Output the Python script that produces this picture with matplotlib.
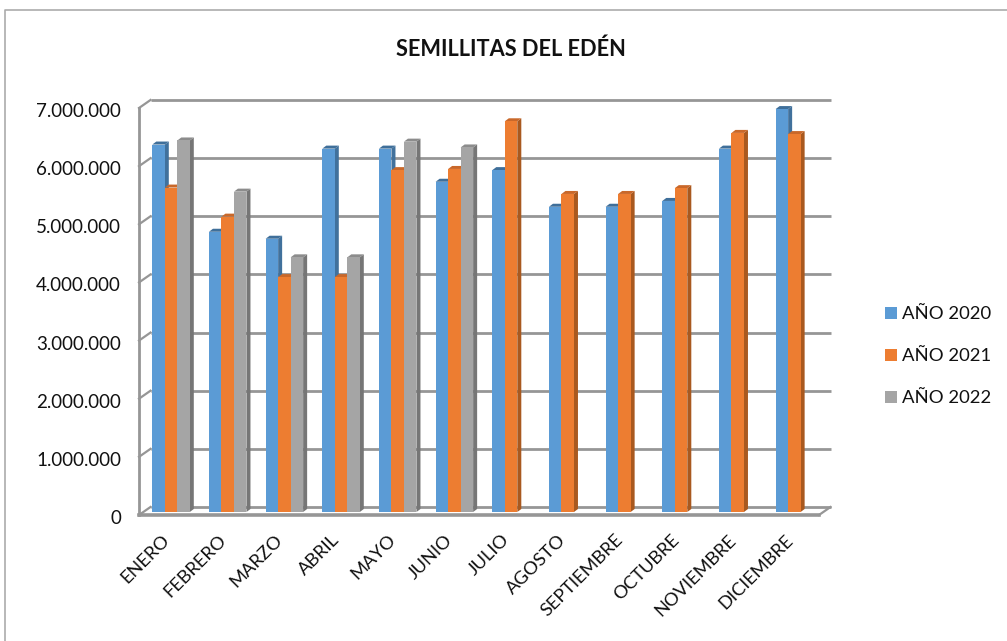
import matplotlib
matplotlib.use("Agg")
import matplotlib.pyplot as plt
from matplotlib.lines import Line2D
from matplotlib.patches import Polygon, Rectangle
from matplotlib.ticker import FuncFormatter
from matplotlib.transforms import ScaledTranslation

W, H = 1007, 641

meses = ["ENERO", "FEBRERO", "MARZO", "ABRIL", "MAYO", "JUNIO", "JULIO",
         "AGOSTO", "SEPTIEMBRE", "OCTUBRE", "NOVIEMBRE", "DICIEMBRE"]
y2020 = [6320000, 4820000, 4700000, 6250000, 6250000, 5680000, 5880000,
         5250000, 5250000, 5350000, 6250000, 6930000]
y2021 = [5580000, 5080000, 4040000, 4040000, 5880000, 5900000, 6720000,
         5470000, 5470000, 5570000, 6520000, 6500000]
y2022 = [6390000, 5510000, 4380000, 4380000, 6370000, 6270000, None,
         None, None, None, None, None]
series = [("AÑO 2020", y2020, "#5B9BD5", "#41719C", "#3F6F9A"),
          ("AÑO 2021", y2021, "#ED7D31", "#A9591F", "#C9682A"),
          ("AÑO 2022", y2022, "#A5A5A5", "#767676", "#8C8C8C")]

plt.rcParams['font.family'] = ['Lato', 'DejaVu Sans']

fig = plt.figure(figsize=(W / 100, H / 100), dpi=100)
ax = fig.add_axes([139 / W, 1 - 515 / H, 680 / W, 407 / H])
ax.set_xlim(0, 12)
ax.set_ylim(0, 7000000)

# pixel sizes turned into data units
px_x = 12 / 680
px_y = 7000000 / 407
wall_dx, wall_dy = 11.5 * px_x, 8 * px_y
bar_w = 12.5 * px_x
bar_x0 = 13.3 * px_x
base = 3 * px_y
side_dx, side_dy = 4 * px_x, 3 * px_y

ax.patch.set_visible(False)
for s in ax.spines.values():
    s.set_visible(False)

grid = "#969696"
ticks = list(range(0, 8000000, 1000000))
for t in ticks:
    ax.plot([wall_dx, 12 + wall_dx], [t + wall_dy, t + wall_dy], color=grid, lw=2.0,
            clip_on=False, zorder=1, solid_capstyle='butt')
    ax.plot([0, wall_dx], [t, t + wall_dy], color=grid, lw=1.6, clip_on=False, zorder=1)
ax.plot([0, 0], [0, 7000000], color=grid, lw=2.0, clip_on=False, zorder=1)
ax.plot([12, 12 + wall_dx], [0, wall_dy], color=grid, lw=1.6, clip_on=False, zorder=1)
ax.plot([0, 12], [0, 0], color=grid, lw=2.6, clip_on=False, zorder=5)

for i in range(12):
    for j, (name, vals, col, side, top) in enumerate(series):
        v = vals[i]
        if v is None:
            continue
        x0 = i + bar_x0 + j * bar_w
        x1 = x0 + bar_w
        z = 3 + j * 0.1
        # bars stand a little behind the front edge of the floor
        ytop = v + base
        ax.add_patch(Polygon([(x1, base), (x1 + side_dx, base + side_dy),
                              (x1 + side_dx, ytop + side_dy), (x1, ytop)],
                             closed=True, fc=side, ec='none', clip_on=False, zorder=z))
        ax.add_patch(Polygon([(x0, ytop), (x0 + side_dx, ytop + side_dy),
                              (x1 + side_dx, ytop + side_dy), (x1, ytop)],
                             closed=True, fc=top, ec='none', clip_on=False, zorder=z))
        ax.add_patch(Rectangle((x0, base), bar_w, v, fc=col, ec='none',
                               clip_on=False, zorder=z + 0.05))

ax.set_yticks(ticks)
ax.yaxis.set_major_formatter(FuncFormatter(lambda v, p: f"{int(v):,}".replace(",", ".")))
ax.tick_params(axis='y', length=0, pad=13, labelsize=13.5, labelcolor="#111111")
shift = ScaledTranslation(0, -2 / 100, fig.dpi_scale_trans)
for lab in ax.get_yticklabels():
    lab.set_transform(lab.get_transform() + shift)
ax.set_xticks([i + 0.5 for i in range(12)])
ax.set_xticklabels(meses, rotation=45, ha='right', rotation_mode='anchor', fontsize=13.2,
                   color="#111111")
ax.tick_params(axis='x', length=0, pad=12)
shift_x = ScaledTranslation(-6 / 100, 0, fig.dpi_scale_trans)
for lab in ax.get_xticklabels():
    lab.set_transform(lab.get_transform() + shift_x)

fig.text(511 / W, 1 - 49 / H, "SEMILLITAS DEL EDÉN", ha='center', va='center',
         fontsize=15.7, fontweight='bold', color="#111111")

# legend
for (name, vals, col, side, top), ly in zip(series, [313, 355, 397]):
    fig.add_artist(Rectangle((885 / W, 1 - (ly + 6) / H), 12 / W, 12 / H, fc=col, ec='none',
                             transform=fig.transFigure))
    fig.text(902 / W, 1 - (ly + 1) / H, name, ha='left', va='center', fontsize=13.3,
             color="#111111")

# chart frame, only the left and top edges are inside the picture
fig.add_artist(Line2D([5 / W, 5 / W, 1], [0, 1 - 9.5 / H, 1 - 9.5 / H], color="#ABABAB", lw=1.2,
                      transform=fig.transFigure))

fig.savefig("out.png", dpi=100)
